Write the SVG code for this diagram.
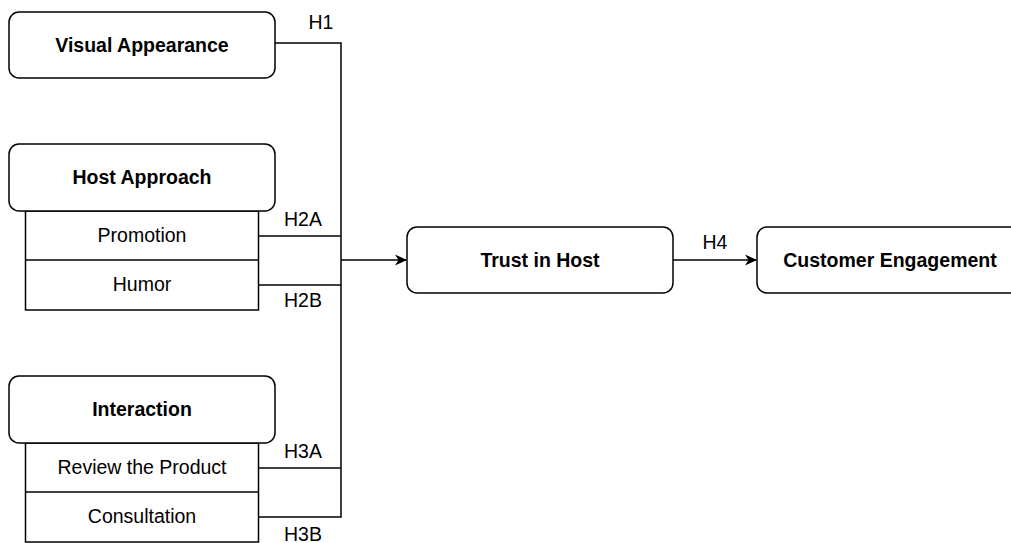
<svg xmlns="http://www.w3.org/2000/svg" width="1011" height="543" viewBox="0 0 1011 543">
<style>
.box{fill:#fff;stroke:#000;stroke-width:1.5}
.t{font-family:"Liberation Sans",Arial,sans-serif;font-size:19.5px;fill:#000;text-anchor:middle;dominant-baseline:central}
.b{font-weight:bold}
.c{fill:none;stroke:#000;stroke-width:1.5}
</style>
<defs>
<marker id="arr" viewBox="0 0 12 12" refX="11" refY="6" markerWidth="13" markerHeight="12" markerUnits="userSpaceOnUse" orient="auto">
<path d="M0,0.5 L12,6 L0,11.5 L3.5,6 Z" fill="#000"/>
</marker>
</defs>
<g id="connectors">
<path class="c" d="M275,43 H341 V517 H258"/>
<path class="c" d="M258,236 H341"/>
<path class="c" d="M258,285 H341"/>
<path class="c" d="M258,468 H341"/>
<path class="c" d="M341,260 H406" marker-end="url(#arr)"/>
<path class="c" d="M673,260 H756" marker-end="url(#arr)"/>
<text class="t" x="321" y="22">H1</text>
<text class="t" x="303" y="219">H2A</text>
<text class="t" x="303" y="300">H2B</text>
<text class="t" x="303" y="451">H3A</text>
<text class="t" x="303" y="534">H3B</text>
<text class="t" x="715" y="242">H4</text>
</g>
<g id="visual-appearance">
<rect class="box" x="9" y="12" width="266" height="66" rx="10"/>
<text class="t b" x="142" y="45">Visual Appearance</text>
</g>
<g id="host-approach">
<rect class="box" x="25.5" y="211" width="233" height="99"/>
<line class="c" x1="25.5" y1="260" x2="258.5" y2="260"/>
<rect class="box" x="9" y="144" width="266" height="67" rx="10"/>
<text class="t b" x="142" y="177">Host Approach</text>
<text class="t" x="142" y="235">Promotion</text>
<text class="t" x="142" y="284">Humor</text>
</g>
<g id="interaction">
<rect class="box" x="25.5" y="443" width="233" height="99"/>
<line class="c" x1="25.5" y1="492" x2="258.5" y2="492"/>
<rect class="box" x="9" y="376" width="266" height="67" rx="10"/>
<text class="t b" x="142" y="409">Interaction</text>
<text class="t" x="142" y="467">Review the Product</text>
<text class="t" x="142" y="516">Consultation</text>
</g>
<g id="trust-in-host">
<rect class="box" x="407" y="227" width="266" height="66" rx="10"/>
<text class="t b" x="540" y="260">Trust in Host</text>
</g>
<g id="customer-engagement">
<rect class="box" x="757" y="227" width="266" height="66" rx="10"/>
<text class="t b" x="890" y="260">Customer Engagement</text>
</g>
</svg>
